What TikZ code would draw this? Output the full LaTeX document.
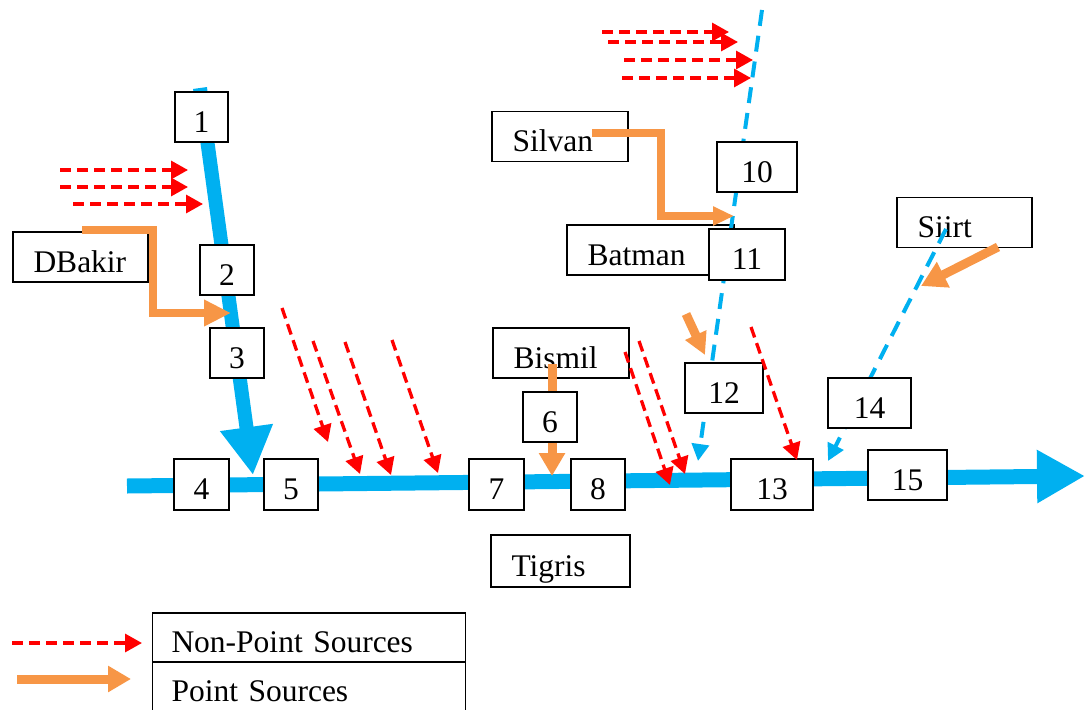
\documentclass[tikz,border=0pt]{standalone}
\usepackage{fontspec}
\setmainfont{Liberation Serif}
\usetikzlibrary{arrows.meta}
\definecolor{river}{RGB}{0,176,240}
\definecolor{psrc}{RGB}{247,150,70}
\definecolor{npsrc}{RGB}{255,0,0}
\tikzset{
 box/.style={draw=black, line width=1.3pt, fill=white, minimum height=50pt, inner xsep=0pt, inner ysep=0pt, text height=30pt, text depth=0pt, font=\fontsize{31.5}{36}\selectfont},
 numbox/.style={box, minimum width=#1},
 placebox/.style={box, align=left, inner xsep=20.5pt, text width=#1},
 npline/.style={npsrc, line width=3.3pt, dash pattern=on 11pt off 6pt, -{Triangle[length=17pt,width=18pt]}},
 pline/.style={psrc, line width=9pt, -{Triangle[length=23pt,width=25pt]}},
 bdash/.style={river, line width=4pt, dash pattern=on 16pt off 10pt, -{Triangle[length=17pt,width=17pt]}},
 mainriver/.style={river, line width=15pt, -{Triangle[length=48pt,width=50pt]}},
}
\begin{document}
\begin{tikzpicture}[x=1pt,y=-1pt]
\useasboundingbox (0,0) rectangle (1086,709);
% rivers
\coordinate (rs) at (127,486);
\coordinate (re) at (1085,476);
\draw[mainriver] (rs) -- (re);
\coordinate (ts) at (200,88);
\coordinate (te) at (253,475);
\draw[mainriver, line width=14pt] (ts) -- (te);
% place boxes
\node[placebox=94pt] (dbakir) at (80.5,257) {DBakir};
\node[placebox=95pt] (silvan) at (560,136.5) {Silvan};
\node[placebox=126pt] (batman) at (650.5,250) {Batman};
\node[placebox=94pt] (siirt) at (964.5,222.5) {Siirt};
\node[placebox=95pt] (bismil) at (561,353) {Bismil};
\node[placebox=98pt, minimum height=52pt] (tigris) at (560.5,561) {Tigris};
% blue dashed tributaries
\coordinate (b1s) at (762,10);
\coordinate (b1e) at (698,461);
\draw[bdash] (b1s) -- (b1e);
\coordinate (b2s) at (946,229);
\coordinate (b2e) at (828,461);
\draw[bdash] (b2s) -- (b2e);
% point sources
\draw[pline, line width=8pt, -{Triangle[length=27pt,width=25pt]}] (82,230) -- (153,230) -- (153,313) -- (231,313);
\draw[pline, line width=8pt, -{Triangle[length=21pt,width=18pt]}] (592,133) -- (661,133) -- (661,216) -- (734,216);
\draw[pline] (552,364) -- (552,476);
\draw[pline, -{Triangle[length=22pt,width=22pt]}] (686,314) -- (705,355);
\draw[pline, -{Triangle[length=25pt,width=27pt]}] (998,247) -- (921,286);
% numbered boxes
\node[numbox=53pt] (n1) at (201.5,117) {1};
\node[numbox=54pt] (n2) at (227,270) {2};
\node[numbox=54pt] (n3) at (237,353) {3};
\node[numbox=55pt, minimum height=51pt] (n4) at (201.5,484.5) {4};
\node[numbox=54pt, minimum height=51pt] (n5) at (291,484.5) {5};
\node[numbox=54pt] (n6) at (550,417) {6};
\node[numbox=55pt, minimum height=51pt] (n7) at (496.5,484.5) {7};
\node[numbox=54pt, minimum height=51pt] (n8) at (598,484.5) {8};
\node[numbox=80pt] (n10) at (757,167) {10};
\node[numbox=76pt, minimum height=51pt] (n11) at (747,254.5) {11};
\node[numbox=78pt] (n12) at (724,388) {12};
\node[numbox=82pt, minimum height=51pt] (n13) at (772,484.5) {13};
\node[numbox=83pt] (n14) at (869.5,403) {14};
\node[numbox=79pt] (n15) at (907.5,475) {15};
% non-point sources
\draw[npline] (60,170) -- (188,170);
\draw[npline] (60,187) -- (188,187);
\draw[npline] (73,204) -- (203,204);
\draw[npline] (602,32) -- (729,32);
\draw[npline] (608,42) -- (738,42);
\draw[npline] (624,60) -- (753,60);
\draw[npline] (622,78) -- (751,78);
\draw[npline] (282,308) -- (328,442);
\draw[npline] (313,341) -- (360,474);
\draw[npline] (345,342) -- (391,475);
\draw[npline] (392,340) -- (438,473);
\draw[npline] (625,352) -- (670,485);
\draw[npline] (639,341) -- (685,474);
\draw[npline] (751,327) -- (797,460);
% legend
\node[placebox=275pt, inner xsep=19pt, minimum height=49pt, text height=29pt] (lnp) at (309,637.5) {Non-Point Sources};
\node[placebox=275pt, inner xsep=19pt, minimum height=49pt, text height=29pt] (lp) at (309,686.5) {Point Sources};
\coordinate (l1s) at (12,643);
\coordinate (l1e) at (142,643);
\draw[npline] (l1s) -- (l1e);
\coordinate (l2s) at (17,679);
\coordinate (l2e) at (131,679);
\draw[pline] (l2s) -- (l2e);
\end{tikzpicture}
\end{document}
